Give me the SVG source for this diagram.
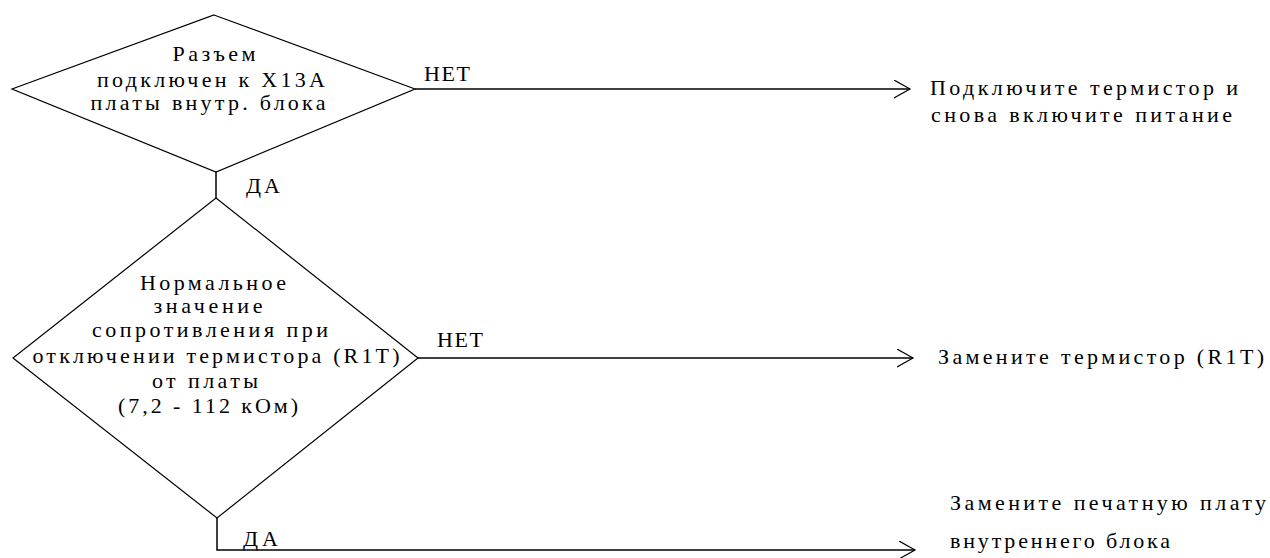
<svg xmlns="http://www.w3.org/2000/svg" width="1270" height="558" viewBox="0 0 1270 558">
<style>
  .shape { fill: none; stroke: #000; stroke-width: 1.2; }
  .conn { fill: none; stroke: #000; stroke-width: 1.5; }
  text { font-family: "Liberation Serif", "Times New Roman", "DejaVu Serif", serif; font-size: 22px; fill: #000; }
  .c { text-anchor: middle; }
</style>
<defs>
  <marker id="arr" markerUnits="userSpaceOnUse" markerWidth="20" markerHeight="22" refX="16" refY="9" orient="auto">
    <path d="M0,0 L16,9 L0,18" fill="none" stroke="#000" stroke-width="1.2"/>
  </marker>
</defs>
<rect width="1270" height="558" fill="#fff"/>

<g id="node-d1">
  <polygon class="shape" points="214,15 415,89 216,172 12,89"/>
  <text class="c" x="214" y="61" textLength="83" lengthAdjust="spacing">Разъем</text>
  <text class="c" x="211" y="87" textLength="228" lengthAdjust="spacing">подключен к X13A</text>
  <text class="c" x="208" y="110" textLength="235" lengthAdjust="spacing">платы внутр. блока</text>
</g>

<g id="node-d2">
  <polygon class="shape" points="216,198 418,358 217,518 13,358"/>
  <text class="c" x="213" y="290" textLength="146" lengthAdjust="spacing">Нормальное</text>
  <text class="c" x="208" y="313" textLength="109" lengthAdjust="spacing">значение</text>
  <text class="c" x="210" y="337" textLength="236" lengthAdjust="spacing">сопротивления при</text>
  <text class="c" x="216" y="363" textLength="367" lengthAdjust="spacing">отключении термистора (R1T)</text>
  <text class="c" x="205" y="388" textLength="106" lengthAdjust="spacing">от платы</text>
  <text class="c" x="208" y="413" textLength="180" lengthAdjust="spacing">(7,2 - 112 кОм)</text>
</g>

<g id="node-r1">
  <text x="930" y="95" textLength="308" lengthAdjust="spacing">Подключите термистор и</text>
  <text x="931" y="122" textLength="301" lengthAdjust="spacing">снова включите питание</text>
</g>

<g id="node-r2">
  <text x="938" y="364" textLength="326" lengthAdjust="spacing">Замените термистор (R1T)</text>
</g>

<g id="node-r3">
  <text x="950" y="510" textLength="316" lengthAdjust="spacing">Замените печатную плату</text>
  <text x="950" y="548" textLength="220" lengthAdjust="spacing">внутреннего блока</text>
</g>

<g id="connectors">
  <line class="conn" x1="415" y1="89" x2="910" y2="89" marker-end="url(#arr)"/>
  <line class="conn" x1="216" y1="172" x2="216" y2="198"/>
  <line class="conn" x1="418" y1="358" x2="913" y2="358" marker-end="url(#arr)"/>
  <polyline class="conn" points="217,518 217,550 915,550" marker-end="url(#arr)"/>
  <text x="424" y="81" textLength="46" lengthAdjust="spacing">НЕТ</text>
  <text x="437" y="347" textLength="46" lengthAdjust="spacing">НЕТ</text>
  <text x="246" y="193" textLength="34" lengthAdjust="spacing">ДА</text>
  <text x="243" y="546" textLength="35" lengthAdjust="spacing">ДА</text>
</g>
</svg>
